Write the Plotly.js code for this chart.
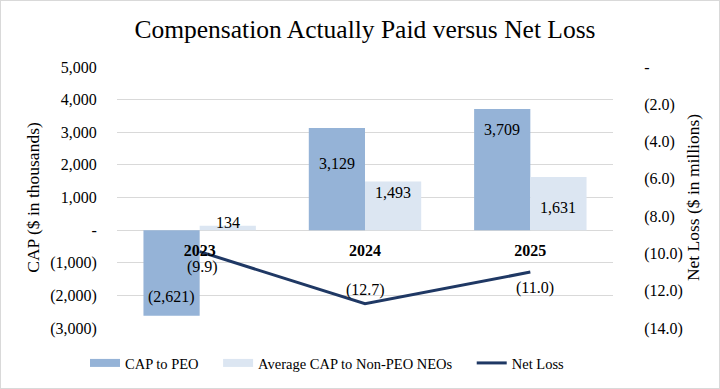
<!DOCTYPE html>
<html>
<head>
<meta charset="utf-8">
<script src="https://cdn.plot.ly/plotly-3.0.1.min.js"></script>
<style>
  html, body { margin: 0; padding: 0; background: #fff; }
  #wrap { position: relative; width: 720px; height: 389px; }
  #chart { width: 720px; height: 389px; }
  #frame { position: absolute; left: 0; top: 0; width: 720px; height: 389px; box-sizing: border-box; border: 1px solid #d9d9d9; pointer-events: none; }
</style>
</head>
<body>
<div id="wrap"><div id="chart"></div><div id="frame"></div></div>
<script>
// ---- data ----
const years = ['2023', '2024', '2025'];
const capPEO = [-2621, 3129, 3709];
const capNonPEO = [134, 1493, 1631];
const netLoss = [-9.9, -12.7, -11.0];

const leftTickVals = [-3000, -2000, -1000, 0, 1000, 2000, 3000, 4000, 5000];
const leftTickText = ['(3,000)', '(2,000)', '(1,000)', '-', '1,000', '2,000', '3,000', '4,000', '5,000'];
const rightTickVals = [0, -2, -4, -6, -8, -10, -12, -14];
const rightTickText = ['-', '(2.0)', '(4.0)', '(6.0)', '(8.0)', '(10.0)', '(12.0)', '(14.0)'];

const seriesNames = ['CAP to PEO', 'Average CAP to Non-PEO NEOs', 'Net Loss'];

// ---- styles ----
const FONT = 'Liberation Serif';
const cPEO = '#95b3d7';
const cNon = '#dce6f2';
const cLine = '#1f3864';
const PAD = '\u00A0\u00A0\u00A0\u00A0';

// label pixel nudges (style only)
const peoShift = [[-28, 19], [-28, -35], [-28, -20]];
const nonShift = [[28, 3], [28, -11], [28, -31]];
const lossShift = [[3, -15], [0, 14], [5, -16]];

function fmtK(v) {
  const s = Math.abs(v).toLocaleString('en-US');
  return v < 0 ? '(' + s + ')' : s;
}
function fmtM(v) {
  const s = Math.abs(v).toFixed(1);
  return v < 0 ? '(' + s + ')' : s;
}

const traces = [
  { type: 'bar', x: years, y: capPEO, name: seriesNames[0], marker: { color: cPEO }, showlegend: false, hoverinfo: 'none' },
  { type: 'bar', x: years, y: capNonPEO, name: seriesNames[1], marker: { color: cNon }, showlegend: false, hoverinfo: 'none' },
  { type: 'scatter', mode: 'lines', x: years, y: netLoss, yaxis: 'y2', name: seriesNames[2], line: { color: cLine, width: 3 }, showlegend: false, hoverinfo: 'none' },
  // legend keys (no data)
  { type: 'scatter', mode: 'lines', x: [years[0]], y: [null], name: seriesNames[0] + PAD, line: { color: cPEO, width: 8 } },
  { type: 'scatter', mode: 'lines', x: [years[0]], y: [null], name: seriesNames[1] + PAD, line: { color: cNon, width: 8 } },
  { type: 'scatter', mode: 'lines', x: [years[0]], y: [null], name: seriesNames[2], line: { color: cLine, width: 3 } }
];

const annotations = [];
years.forEach((yr, i) => {
  annotations.push({ x: i, y: capPEO[i], xref: 'x', yref: 'y', text: fmtK(capPEO[i]), showarrow: false,
    xshift: peoShift[i][0], yshift: peoShift[i][1], font: { family: FONT, size: 16, color: '#000' } });
  annotations.push({ x: i, y: capNonPEO[i], xref: 'x', yref: 'y', text: fmtK(capNonPEO[i]), showarrow: false,
    xshift: nonShift[i][0], yshift: nonShift[i][1], font: { family: FONT, size: 16, color: '#000' } });
  annotations.push({ x: i, y: netLoss[i], xref: 'x', yref: 'y2', text: fmtM(netLoss[i]), showarrow: false,
    xshift: lossShift[i][0], yshift: lossShift[i][1], font: { family: FONT, size: 16, color: '#000' } });
});

const layout = {
  width: 720, height: 389,
  margin: { l: 117, r: 107, t: 67, b: 61 },
  paper_bgcolor: '#fff', plot_bgcolor: '#fff',
  font: { family: FONT, color: '#000' },
  title: { text: 'Compensation Actually Paid versus Net Loss', font: { family: FONT, size: 25.5, color: '#000' },
    x: 365 / 720, xref: 'container', xanchor: 'center', y: 1 - 29 / 389, yref: 'container', yanchor: 'middle' },
  barmode: 'group', bargap: 0.32, bargroupgap: 0,
  xaxis: { type: 'category', categoryorder: 'array', categoryarray: years, range: [-0.5, 2.5],
    anchor: 'free', position: 0.375, showgrid: false, zeroline: false, showline: false,
    ticks: 'outside', ticklen: 6, tickcolor: 'rgba(0,0,0,0)',
    tickfont: { family: FONT, size: 16, weight: 'bold', color: '#000' } },
  yaxis: { range: [-3000, 5000], tickvals: leftTickVals, ticktext: leftTickText, showgrid: true, gridcolor: '#d9d9d9', gridwidth: 1,
    zeroline: false, showline: false, ticks: 'outside', ticklen: 16, tickcolor: 'rgba(0,0,0,0)',
    tickfont: { family: FONT, size: 16, color: '#000' },
    title: { text: 'CAP ($ in thousands)', font: { family: FONT, size: 17.5, color: '#000' }, standoff: 6 } },
  yaxis2: { overlaying: 'y', side: 'right', anchor: 'x', range: [-14, 0], tickvals: rightTickVals, ticktext: rightTickText,
    showgrid: false, zeroline: false, showline: false, ticks: 'outside', ticklen: 27, tickcolor: 'rgba(0,0,0,0)',
    tickfont: { family: FONT, size: 16, color: '#000' },
    title: { text: 'Net Loss ($ in millions)', font: { family: FONT, size: 17.5, color: '#000' }, standoff: 0 } },
  legend: { orientation: 'h', xref: 'container', yref: 'container', x: 85 / 720, xanchor: 'left', y: 26 / 389, yanchor: 'middle',
    font: { family: FONT, size: 14.5, color: '#000' }, itemwidth: 30, bgcolor: 'rgba(0,0,0,0)' },
  annotations: annotations,
  showlegend: true
};

Plotly.newPlot('chart', traces, layout, { staticPlot: true, displayModeBar: false });
</script>
</body>
</html>
